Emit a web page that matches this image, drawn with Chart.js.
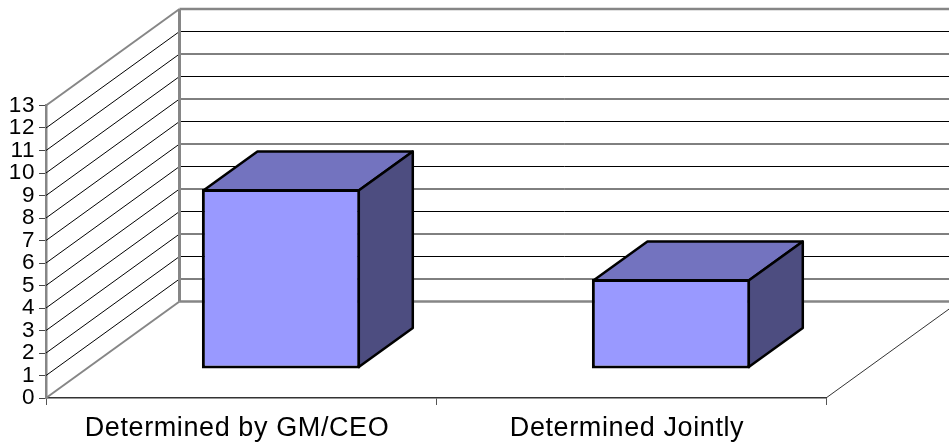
<!DOCTYPE html>
<html>
<head>
<meta charset="utf-8">
<style>
  html, body { margin: 0; padding: 0; background: #fff; }
  #wrap { width: 949px; height: 444px; position: relative; overflow: hidden; }
  canvas { display: block; }
</style>
<script src="https://cdn.jsdelivr.net/npm/chart.js@4"></script>
</head>
<body>
<div id="wrap"><canvas id="chart" width="949" height="444"></canvas></div>
<script>
const categories = ['Determined by GM/CEO', 'Determined Jointly'];
const responses = [8, 4];
const valueTicks = [0, 1, 2, 3, 4, 5, 6, 7, 8, 9, 10, 11, 12, 13];

// Oblique projection of the floor: how far the back wall sits from the front plane.
const DEPTH_X = 133.5;
const DEPTH_Y = -96.5;
// Each box occupies this slice of the floor depth.
const BOX_NEAR = 0.3;
const BOX_DEPTH = 0.405;
const BOX_LINE = 3;

const FRONT_FILL = '#9999ff';
const TOP_FILL = '#7373bf';
const SIDE_FILL = '#4d4d80';
const WALL_EDGE = '#868686';

function segment(ctx, x1, y1, x2, y2, color, width) {
  ctx.beginPath();
  ctx.moveTo(x1, y1);
  ctx.lineTo(x2, y2);
  ctx.strokeStyle = color;
  ctx.lineWidth = width;
  ctx.stroke();
}

function polygon(ctx, pts, fill) {
  ctx.beginPath();
  pts.forEach((p, i) => (i ? ctx.lineTo(p[0], p[1]) : ctx.moveTo(p[0], p[1])));
  ctx.closePath();
  ctx.fillStyle = fill;
  ctx.fill();
  ctx.strokeStyle = '#000';
  ctx.lineWidth = BOX_LINE - 0.5;
  ctx.lineJoin = 'round';
  ctx.stroke();
}

// Side wall, back wall and floor of the 3D plot box.
const wallsPlugin = {
  id: 'walls',
  // The tick text runs slightly wide, so it gets a little tracking.
  beforeDraw(chart) {
    chart.ctx.letterSpacing = '0.6px';
  },
  beforeDatasetsDraw(chart) {
    const { ctx, scales: { y }, chartArea: a } = chart;
    ctx.save();
    valueTicks.forEach(v => {
      const py = y.getPixelForValue(v);
      const edge = v === 0 || v === valueTicks[valueTicks.length - 1];
      if (!edge) {
        segment(ctx, a.left, py, a.left + DEPTH_X, py + DEPTH_Y, '#000', 1);
        segment(ctx, a.left + DEPTH_X, py + DEPTH_Y, a.right + DEPTH_X, py + DEPTH_Y, '#000', 1);
      } else {
        segment(ctx, a.left, py, a.left + DEPTH_X, py + DEPTH_Y, WALL_EDGE, 2);
        segment(ctx, a.left + DEPTH_X, py + DEPTH_Y, a.right + DEPTH_X, py + DEPTH_Y, WALL_EDGE, 2.5);
      }
    });
    segment(ctx, a.left + DEPTH_X, y.getPixelForValue(0) + DEPTH_Y,
            a.left + DEPTH_X, y.getPixelForValue(13) + DEPTH_Y, WALL_EDGE, 3);
    segment(ctx, a.right, a.bottom, a.right + DEPTH_X, a.bottom + DEPTH_Y, '#333', 1);
    ctx.restore();
  },
  // Top and side faces go first; the library then paints the front face, shifted back onto the floor.
  beforeDatasetDraw(chart, args) {
    const { ctx } = chart;
    const nx = BOX_NEAR * DEPTH_X, ny = BOX_NEAR * DEPTH_Y;
    const dx = BOX_DEPTH * DEPTH_X, dy = BOX_DEPTH * DEPTH_Y;
    const inset = BOX_LINE / 2;
    ctx.save();
    args.meta.data.forEach(bar => {
      const { x, y, base, width } = bar.getProps(['x', 'y', 'base', 'width'], true);
      const l = x - width / 2 + nx + inset, r = x + width / 2 + nx - inset;
      const t = y + ny + inset, b = base + ny - inset;
      polygon(ctx, [[l, t], [r, t], [r + dx, t + dy], [l + dx, t + dy]], TOP_FILL);
      polygon(ctx, [[r, t], [r + dx, t + dy], [r + dx, b + dy], [r, b]], SIDE_FILL);
    });
    ctx.translate(nx, ny);
  },
  afterDatasetDraw(chart) {
    chart.ctx.restore();
  }
};

new Chart(document.getElementById('chart'), {
  type: 'bar',
  data: {
    labels: categories,
    datasets: [{
      data: responses,
      backgroundColor: FRONT_FILL,
      borderColor: '#000',
      borderWidth: BOX_LINE,
      borderSkipped: false,
      barPercentage: 0.406,
      categoryPercentage: 1,
      clip: false
    }]
  },
  plugins: [wallsPlugin],
  options: {
    responsive: false,
    animation: false,
    layout: { padding: { top: 105.5, right: 123, left: 0, bottom: 0 } },
    plugins: { legend: { display: false }, title: { display: false }, tooltip: { enabled: false } },
    scales: {
      x: {
        afterFit(s) { s.height = 46; },
        grid: { drawOnChartArea: false, color: '#555', tickLength: 7, tickWidth: 1 },
        border: { color: '#333', width: 1.5 },
        ticks: { color: '#000', font: { family: 'Liberation Sans', size: 27 }, padding: 7, maxRotation: 0, autoSkip: false, labelOffset: -4 }
      },
      y: {
        min: 0,
        max: 13,
        afterFit(s) { s.width = 46; },
        grid: { drawOnChartArea: false, color: '#444', tickLength: 7, tickWidth: 1 },
        border: { color: WALL_EDGE, width: 2.5 },
        ticks: { color: '#000', stepSize: 1, autoSkip: false, font: { family: 'Liberation Sans', size: 22.5 }, padding: 4 }
      }
    }
  }
});
</script>
</body>
</html>
